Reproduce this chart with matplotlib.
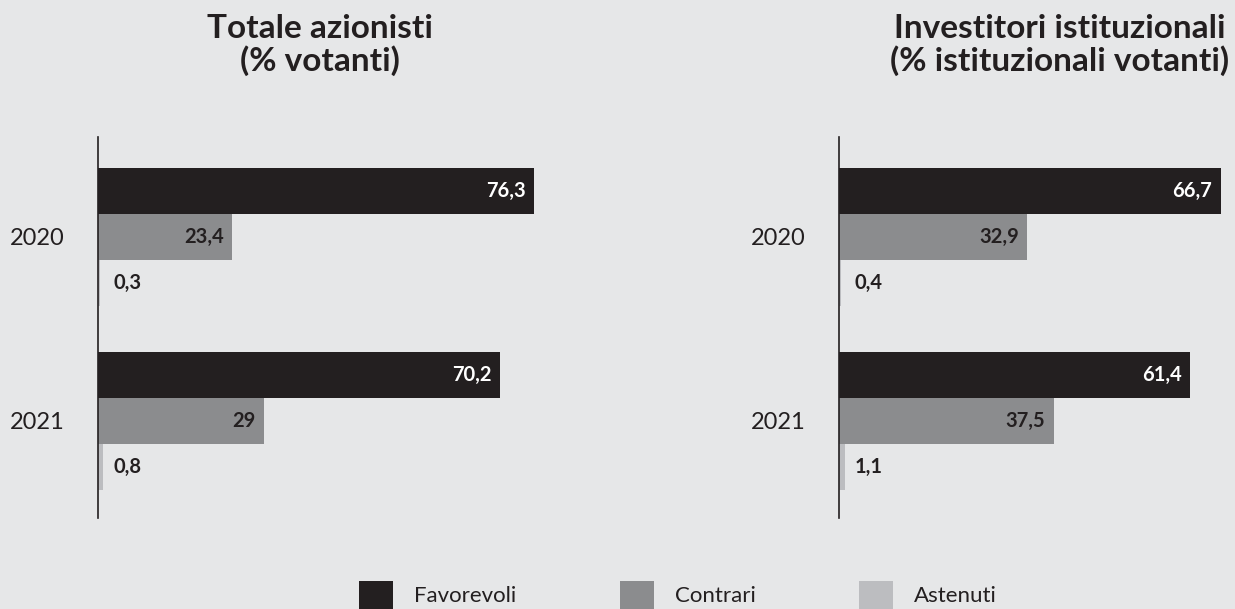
import matplotlib
matplotlib.use("Agg")
import matplotlib.pyplot as plt
from matplotlib.patches import Patch

# Data
years = ["2020", "2021"]
series = ["Favorevoli", "Contrari", "Astenuti"]
totale = {"Favorevoli": [76.3, 70.2], "Contrari": [23.4, 29.0], "Astenuti": [0.3, 0.8]}
istituzionali = {"Favorevoli": [66.7, 61.4], "Contrari": [32.9, 37.5], "Astenuti": [0.4, 1.1]}
titles = ["Totale azionisti\n(% votanti)", "Investitori istituzionali\n(% istituzionali votanti)"]

colors = {"Favorevoli": "#231f20", "Contrari": "#8b8c8e", "Astenuti": "#bcbdc0"}
label_colors = {"Favorevoli": "white", "Contrari": "#231f20", "Astenuti": "#231f20"}
bg = "#e6e7e8"
dark = "#231f20"

plt.rcParams["font.family"] = ["Lato", "DejaVu Sans"]

W, H = 1235, 609
fig = plt.figure(figsize=(W / 100, H / 100), dpi=100, facecolor=bg)

px = 5.72  # pixels per percentage unit


def add_panel(left_px, width_px, data, title, title_x):
    ax = fig.add_axes([left_px / W, (H - 518) / H, width_px / W, 381 / H])
    ax.set_facecolor(bg)
    ax.patch.set_alpha(0)
    for i, s in enumerate(series):
        ys = [g * 4 + (i - 1) for g in range(len(years))]
        vals = data[s]
        ax.barh(ys, vals, height=1.0, color=colors[s], linewidth=0)
        for y, v in zip(ys, vals):
            txt = f"{v:g}".replace(".", ",")
            if s == "Astenuti":
                ax.annotate(txt, (0, y), xytext=(11.5, 0), textcoords="offset points",
                            ha="left", va="center", fontsize=14.5, fontweight="bold",
                            color=label_colors[s])
            else:
                ax.annotate(txt, (v, y), xytext=(-6, 0), textcoords="offset points",
                            ha="right", va="center", fontsize=14.5, fontweight="bold",
                            color=label_colors[s])
    ax.set_xlim(0, width_px / px)
    ax.set_ylim(6.109, -2.174)
    ax.set_yticks([g * 4 for g in range(len(years))])
    ax.set_yticklabels(years, fontsize=17, color=dark)
    ax.tick_params(axis="y", length=0, pad=24)
    ax.set_xticks([])
    for sp in ["top", "right", "bottom"]:
        ax.spines[sp].set_visible(False)
    ax.spines["left"].set_color(dark)
    ax.spines["left"].set_linewidth(1.2)
    fig.text(title_x / W, 1 - 14 / H, title, ha="center", va="top", fontsize=24,
             fontweight="bold", color=dark, linespacing=1.1)
    return ax


add_panel(98, 500, totale, titles[0], 320)
add_panel(839, 396, istituzionali, titles[1], 1060)

handles = [Patch(facecolor=colors[s], edgecolor="none", label=s) for s in series]
fig.legend(handles=handles, loc="upper left", bbox_to_anchor=(359 / W, 1 - 581 / H),
           ncol=3, frameon=False, handlelength=1.53, handleheight=1.53,
           handletextpad=0.95, columnspacing=4.65, borderpad=0, borderaxespad=0,
           labelcolor=dark, prop={"size": 16})

fig.savefig("out.png", dpi=100, facecolor=bg)
